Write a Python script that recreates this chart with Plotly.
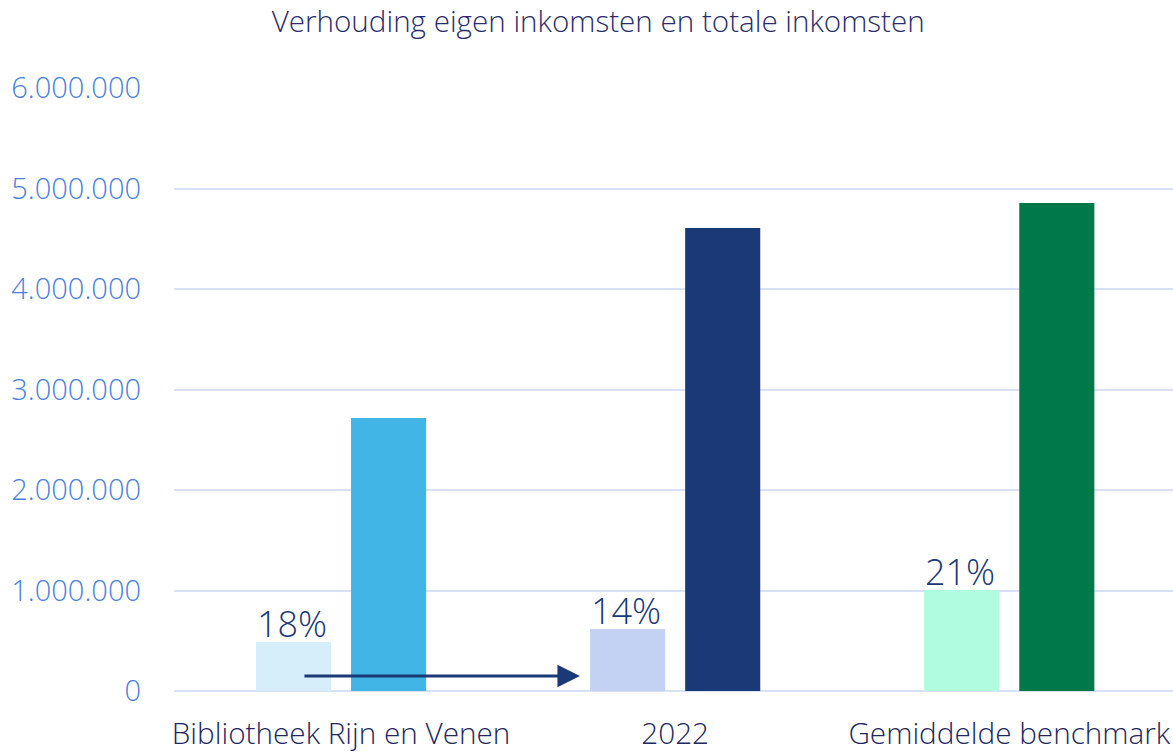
import plotly.graph_objects as go

categories = ["Bibliotheek Rijn en Venen", "2022", "Gemiddelde benchmark"]
eigen_inkomsten = [487000, 617000, 1005000]
totale_inkomsten = [2716000, 4607000, 4856000]
pct_labels = ["18%", "14%", "21%"]
y_ticks = [0, 1000000, 2000000, 3000000, 4000000, 5000000, 6000000]

eigen_colors = ["#D6EEF9", "#C3D1F2", "#AFFCE0"]
totaal_colors = ["#41B6E6", "#1B3877", "#00784A"]

FONT = "Open Sans"

fig = go.Figure()
fig.add_trace(go.Bar(
    x=categories, y=eigen_inkomsten, name="Eigen inkomsten",
    marker=dict(color=eigen_colors, line=dict(width=0)),
))
fig.add_trace(go.Bar(
    x=categories, y=totale_inkomsten, name="Totale inkomsten",
    marker=dict(color=totaal_colors, line=dict(width=0)),
))

for i, (val, lab) in enumerate(zip(eigen_inkomsten, pct_labels)):
    fig.add_annotation(
        x=i, y=val, xref="x", yref="y", text=lab, showarrow=False,
        xanchor="center", yanchor="bottom", xshift=-49, yshift=-8,
        font=dict(family=FONT, size=36, color="#1B3877", weight=300),
    )

fig.add_annotation(
    x=0.715, y=150000, ax=-0.114, ay=150000,
    xref="x", yref="y", axref="x", ayref="y",
    showarrow=True, arrowhead=2, arrowsize=1.5, arrowwidth=3,
    arrowcolor="#1B3877", text="",
)

fig.update_layout(
    width=1173, height=755,
    margin=dict(l=174, r=0, t=88, b=64),
    paper_bgcolor="white", plot_bgcolor="white",
    separators=",.",
    barmode="group", bargap=0.431, bargroupgap=0.21,
    showlegend=False,
    title=dict(text="Verhouding eigen inkomsten en totale inkomsten",
               x=0.51, xanchor="center", y=0.971, yanchor="middle",
               font=dict(family=FONT, size=29.6, color="#2B2D6B", weight=300)),
    font=dict(family=FONT, weight=300),
)
fig.update_xaxes(
    type="category", automargin=False,
    range=[-0.5, 2.49], showgrid=False, showline=False, zeroline=False,
    ticks="", tickfont=dict(family=FONT, size=29.7, color="#22285E", weight=300),
    ticklabelstandoff=22,
)
fig.update_yaxes(
    automargin=False,
    range=[0, 6000000], tickvals=y_ticks, tickformat=",d",
    showgrid=True, gridcolor="#D9E1F7", gridwidth=2,
    zeroline=True, zerolinecolor="#D9E1F7", zerolinewidth=2,
    showline=False, ticks="",
    tickfont=dict(family=FONT, size=29, color="#4A7FDE", weight=300),
    ticklabelstandoff=32,
)

fig.write_html("out.html", config={"displayModeBar": False},
               post_script="document.body.style.margin='0';")
